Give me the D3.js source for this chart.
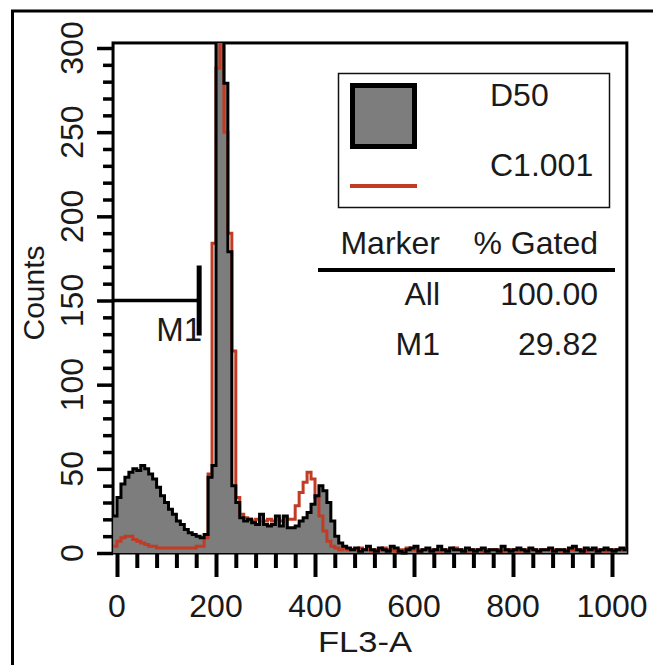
<!DOCTYPE html>
<html><head><meta charset="utf-8">
<script src="https://cdn.jsdelivr.net/npm/d3@7"></script>
<style>html,body{margin:0;padding:0;background:#fff;} svg{display:block;}</style>
</head><body>
<svg id="c" width="653" height="665"></svg>
<script>
// ---------- data ----------
const binStart = -8, binWidth = 8;
const d50Counts = [
  22,33,41,45,48,50,49,52,50,47,
  44,39,34,30,26,23,19,17,14,12,
  11,10,9,11,45,52,330,330,279,179,
  40,30,21,19,20,18,17,23,17,16,
  17,22,16,22,15,15,16,19,21,24,
  29,34,40,37,30,19,10,6,4,3,
  2,3,1,2,4,2,1,3,2,1,
  4,3,1,0,2,3,4,1,2,3,
  1,2,4,2,1,3,2,2,1,3,
  2,1,2,3,1,2,2,1,4,2,
  1,2,3,2,1,3,2,1,2,2,
  3,1,2,2,1,3,4,2,1,3,
  2,3,1,2,3,2,1,2,3,2
];
const c1Counts = [
  4,7,9,10,10,8,7,6,5,4,
  4,3,3,3,3,3,3,3,3,3,
  3,4,4,9,47,184,288,330,250,190,
  120,33,23,21,20,19,20,19,19,20,
  19,20,19,21,20,20,28,36,42,48,
  44,33,22,13,7,4,3,2,3,2,
  2,2,3,2,2,1,2,2,3,2,
  2,1,2,2,3,2,2,1,2,2,
  2,2,1,2,2,2,3,2,2,1,
  2,2,2,1,2,2,2,2,1,2,
  2,2,1,2,2,2,2,1,2,2,
  2,2,2,1,2,2,2,2,2,1,
  2,2,2,2,1,2,2,2,2,2
];
const seriesNames = ["D50", "C1.001"];
const xMajorTicks = [0, 200, 400, 600, 800, 1000];
const yMajorTicks = [0, 50, 100, 150, 200, 250, 300];
const xMinorStep = 40, yMinorStep = 10;
const xLabel = "FL3-A", yLabel = "Counts";
const markerName = "M1";
const markerRange = [-8, 166];
const markerLevel = 150;
const statsHeader = ["Marker", "% Gated"];
const statsRows = [["All", "100.00"], ["M1", "29.82"]];

// ---------- drawing ----------
const FONT = "'Liberation Sans', Arial, Helvetica, sans-serif";
const RED = "#c23b24", GRAY = "#7d7d7d", INK = "#1a1a1a";
const svg = d3.select("#c");
const x = d3.scaleLinear().domain([0, 1000]).range([117, 612]);
const y = d3.scaleLinear().domain([0, 300]).range([553, 48]);
const X0 = x(-8), X1 = x(1030), Y0 = y(0), Y1 = y(303);

// outer frame
svg.append("rect").attr("x", 12.5).attr("y", 11).attr("width", 900).attr("height", 900)
  .attr("fill", "none").attr("stroke", "#000").attr("stroke-width", 3);

// plot box
svg.append("rect").attr("x", X0).attr("y", Y1).attr("width", X1 - X0).attr("height", Y0 - Y1)
  .attr("fill", "none").attr("stroke", "#000").attr("stroke-width", 3);

svg.append("defs").append("clipPath").attr("id", "clip")
  .append("rect").attr("x", X0).attr("y", Y1).attr("width", X1 - X0).attr("height", Y0 - Y1 + 2);

const pts = arr => arr.map((v, i) => [binStart + i * binWidth, v])
  .concat([[binStart + arr.length * binWidth, arr[arr.length - 1]]]);
const area = d3.area().x(d => x(d[0])).y0(y(0)).y1(d => y(d[1])).curve(d3.curveStepAfter);
const line = d3.line().x(d => x(d[0])).y(d => y(d[1])).curve(d3.curveStepAfter);

const hg = svg.append("g").attr("clip-path", "url(#clip)");
hg.append("path").attr("d", area(pts(d50Counts))).attr("fill", GRAY);
hg.append("path").attr("d", line(pts(c1Counts))).attr("fill", "none").attr("stroke", RED).attr("stroke-width", 3);
hg.append("path").attr("d", line(pts(d50Counts))).attr("fill", "none").attr("stroke", "#000").attr("stroke-width", 3);

// y axis ticks
const yMinor = d3.range(0, 301, yMinorStep).filter(v => v % 50 !== 0);
const gy = svg.append("g").attr("transform", `translate(${X0},0)`);
gy.call(d3.axisLeft(y).tickValues(yMajorTicks).tickSize(16).tickFormat(""));
const gy2 = svg.append("g").attr("transform", `translate(${X0},0)`);
gy2.call(d3.axisLeft(y).tickValues(yMinor).tickSize(10).tickFormat(""));
[gy, gy2].forEach(g => { g.select(".domain").remove(); g.selectAll("line").attr("stroke", "#000").attr("stroke-width", 3.5); });

// x axis ticks
const xMinor = d3.range(0, 1001, xMinorStep).filter(v => v % 200 !== 0);
const gx = svg.append("g").attr("transform", `translate(0,${Y0})`);
gx.call(d3.axisBottom(x).tickValues(xMajorTicks).tickSize(24).tickFormat(""));
const gx2 = svg.append("g").attr("transform", `translate(0,${Y0})`);
gx2.call(d3.axisBottom(x).tickValues(xMinor).tickSize(15).tickFormat(""));
[gx, gx2].forEach(g => { g.select(".domain").remove(); g.selectAll("line").attr("stroke", "#000").attr("stroke-width", 4); });

// tick labels
svg.append("g").selectAll("text").data(yMajorTicks).join("text")
  .attr("transform", d => `translate(83,${y(d)}) rotate(-90)`)
  .attr("text-anchor", "middle").attr("font-family", FONT).attr("font-size", 32).attr("fill", INK)
  .text(d => d);
svg.append("g").selectAll("text").data(xMajorTicks).join("text")
  .attr("x", d => x(d)).attr("y", 617)
  .attr("text-anchor", "middle").attr("font-family", FONT).attr("font-size", 32).attr("fill", INK)
  .text(d => d);

// axis titles
svg.append("text").attr("transform", "translate(44,293) rotate(-90)").attr("text-anchor", "middle")
  .attr("font-family", FONT).attr("font-size", 30).attr("fill", INK)
  .attr("textLength", 95).attr("lengthAdjust", "spacingAndGlyphs").text(yLabel);
svg.append("text").attr("x", 365).attr("y", 652).attr("text-anchor", "middle")
  .attr("font-family", FONT).attr("font-size", 29).attr("fill", INK)
  .attr("textLength", 94).attr("lengthAdjust", "spacingAndGlyphs").text(xLabel);

// marker M1
svg.append("line").attr("x1", x(markerRange[0])).attr("x2", x(markerRange[1]))
  .attr("y1", y(markerLevel)).attr("y2", y(markerLevel)).attr("stroke", "#000").attr("stroke-width", 3.5);
svg.append("text").attr("x", 202).attr("y", 341).attr("text-anchor", "end")
  .attr("font-family", FONT).attr("font-size", 33).attr("fill", INK).text(markerName);
svg.append("line").attr("x1", x(markerRange[1])).attr("x2", x(markerRange[1]))
  .attr("y1", y(markerLevel) - 35).attr("y2", y(markerLevel) + 35).attr("stroke", "#000").attr("stroke-width", 5);

// legend
svg.append("rect").attr("x", 338.5).attr("y", 73.5).attr("width", 271).attr("height", 134)
  .attr("fill", "#fff").attr("stroke", "#111").attr("stroke-width", 1.5);
svg.append("rect").attr("x", 352.5).attr("y", 85.5).attr("width", 62).attr("height", 61)
  .attr("fill", GRAY).attr("stroke", "#000").attr("stroke-width", 5);
svg.append("line").attr("x1", 350).attr("x2", 417).attr("y1", 186).attr("y2", 186)
  .attr("stroke", RED).attr("stroke-width", 4);
svg.append("g").selectAll("text").data(seriesNames).join("text")
  .attr("x", 490).attr("y", (d, i) => 106 + i * 70)
  .attr("font-family", FONT).attr("font-size", 32).attr("fill", INK).text(d => d);

// stats table
const colEnds = [440, 598];
svg.append("g").selectAll("text").data(statsHeader).join("text")
  .attr("x", (d, i) => colEnds[i]).attr("y", 254).attr("text-anchor", "end")
  .attr("font-family", FONT).attr("font-size", 32).attr("fill", INK).text(d => d);
svg.append("line").attr("x1", 318).attr("x2", 615).attr("y1", 270).attr("y2", 270)
  .attr("stroke", "#000").attr("stroke-width", 4);
statsRows.forEach((row, r) => {
  svg.append("g").selectAll("text").data(row).join("text")
    .attr("x", (d, i) => colEnds[i]).attr("y", 305 + r * 50).attr("text-anchor", "end")
    .attr("font-family", FONT).attr("font-size", 32).attr("fill", INK).text(d => d);
});
</script>
</body></html>
